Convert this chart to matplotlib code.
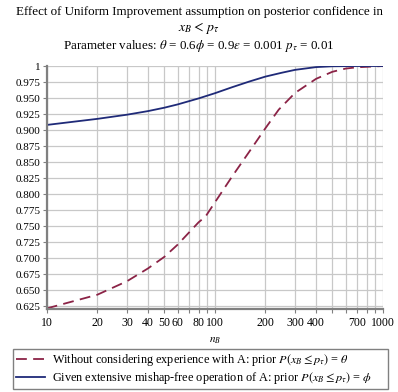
import matplotlib
matplotlib.use('Agg')
import matplotlib.pyplot as plt
from matplotlib.lines import Line2D

# values
n_dashed = [10, 20, 30, 40, 50, 60, 80, 88, 100, 127, 160, 200, 240, 300, 400, 500, 600, 700, 1000]
conf_dashed = [0.6216, 0.643, 0.664, 0.684, 0.702, 0.721, 0.756, 0.765, 0.787, 0.828, 0.866, 0.903,
               0.932, 0.958, 0.980, 0.991, 0.996, 0.998, 1.0]
n_solid = [10, 20, 30, 40, 50, 60, 80, 100, 127, 160, 200, 250, 300, 400, 500, 700, 1000]
conf_solid = [0.908, 0.9175, 0.924, 0.9296, 0.9349, 0.940, 0.9494, 0.9575, 0.967, 0.9757, 0.9835,
              0.9895, 0.994, 0.9983, 0.9996, 1.0, 1.0]

x_grid = [10, 20, 30, 40, 50, 60, 70, 80, 90, 100, 200, 300, 400, 500, 600, 700, 800, 900, 1000]
x_labels = ['10', '20', '30', '40', '50', '60', '', '80', '', '100', '200', '300', '400', '', '', '700', '', '', '1000']
y_ticks = [0.625 + 0.025 * i for i in range(16)]
y_labels = ['%.3f' % v for v in y_ticks[:-1]] + ['1']

plt.rcParams['font.family'] = ['Liberation Serif', 'DejaVu Serif']
plt.rcParams['mathtext.fontset'] = 'stix'

fig = plt.figure(figsize=(3.98, 3.92), dpi=100)
ax = fig.add_axes([0.1173, 0.213, 0.845, 0.6186])

ax.plot(n_dashed, conf_dashed, color='#8b2346', lw=1.3, dashes=(6, 3.5))
ax.plot(n_solid, conf_solid, color='#1f2a78', lw=1.3)

ax.set_xscale('log')
ax.set_xlim(10, 1000)
ax.set_ylim(0.6215, 1.0)
ax.set_xticks(x_grid)
ax.set_xticklabels(x_labels)
ax.xaxis.set_minor_locator(matplotlib.ticker.NullLocator())
ax.set_yticks(y_ticks)
ax.set_yticklabels(y_labels)
ax.tick_params(axis='both', labelsize=8, color='#808080', length=3, width=0.8, pad=1.5)
ax.tick_params(axis='x', labelsize=8.5, pad=3)
ax.grid(True, color='#c8c8c8', lw=0.9)
ax.set_axisbelow(True)
for side in ['top', 'right']:
    ax.spines[side].set_visible(False)
for side in ['left', 'bottom']:
    ax.spines[side].set_color('#808080')
    ax.spines[side].set_linewidth(1.6)

ax.set_xlabel(r'$n_B$', fontsize=8, labelpad=5)

fig.text(0.5, 0.969, 'Effect of Uniform Improvement assumption on posterior confidence in',
         ha='center', va='center', fontsize=9.35)
fig.text(0.5, 0.929, r'$x_B < \,p_\tau$', ha='center', va='center', fontsize=10)
fig.text(0.5, 0.883, r'Parameter values: $\theta$ = 0.6$\phi$ = 0.9$\epsilon$ = 0.001 $p_\tau$ = 0.01',
         ha='center', va='center', fontsize=9.4)

handles = [Line2D([], [], color='#8b2346', lw=1.3, dashes=(6, 3.5)),
           Line2D([], [], color='#1f2a78', lw=1.3)]
labels = [r'Without considering experience with A: prior $P\left(x_B \leq p_\tau\right)$ = $\theta$',
          r'Given extensive mishap-free operation of A: prior $P\left(x_B \leq p_\tau\right)$ = $\phi$']
fig.legend(handles, labels, loc='lower left', bbox_to_anchor=(13 / 398, 3 / 392, 375 / 398, 40 / 392),
           mode='expand', fontsize=8.8, frameon=True, fancybox=False, edgecolor='#606060',
           handlelength=2.4, handletextpad=0.5, borderpad=0.25, labelspacing=0.15, borderaxespad=0.0)

fig.savefig('out.png', dpi=100)
